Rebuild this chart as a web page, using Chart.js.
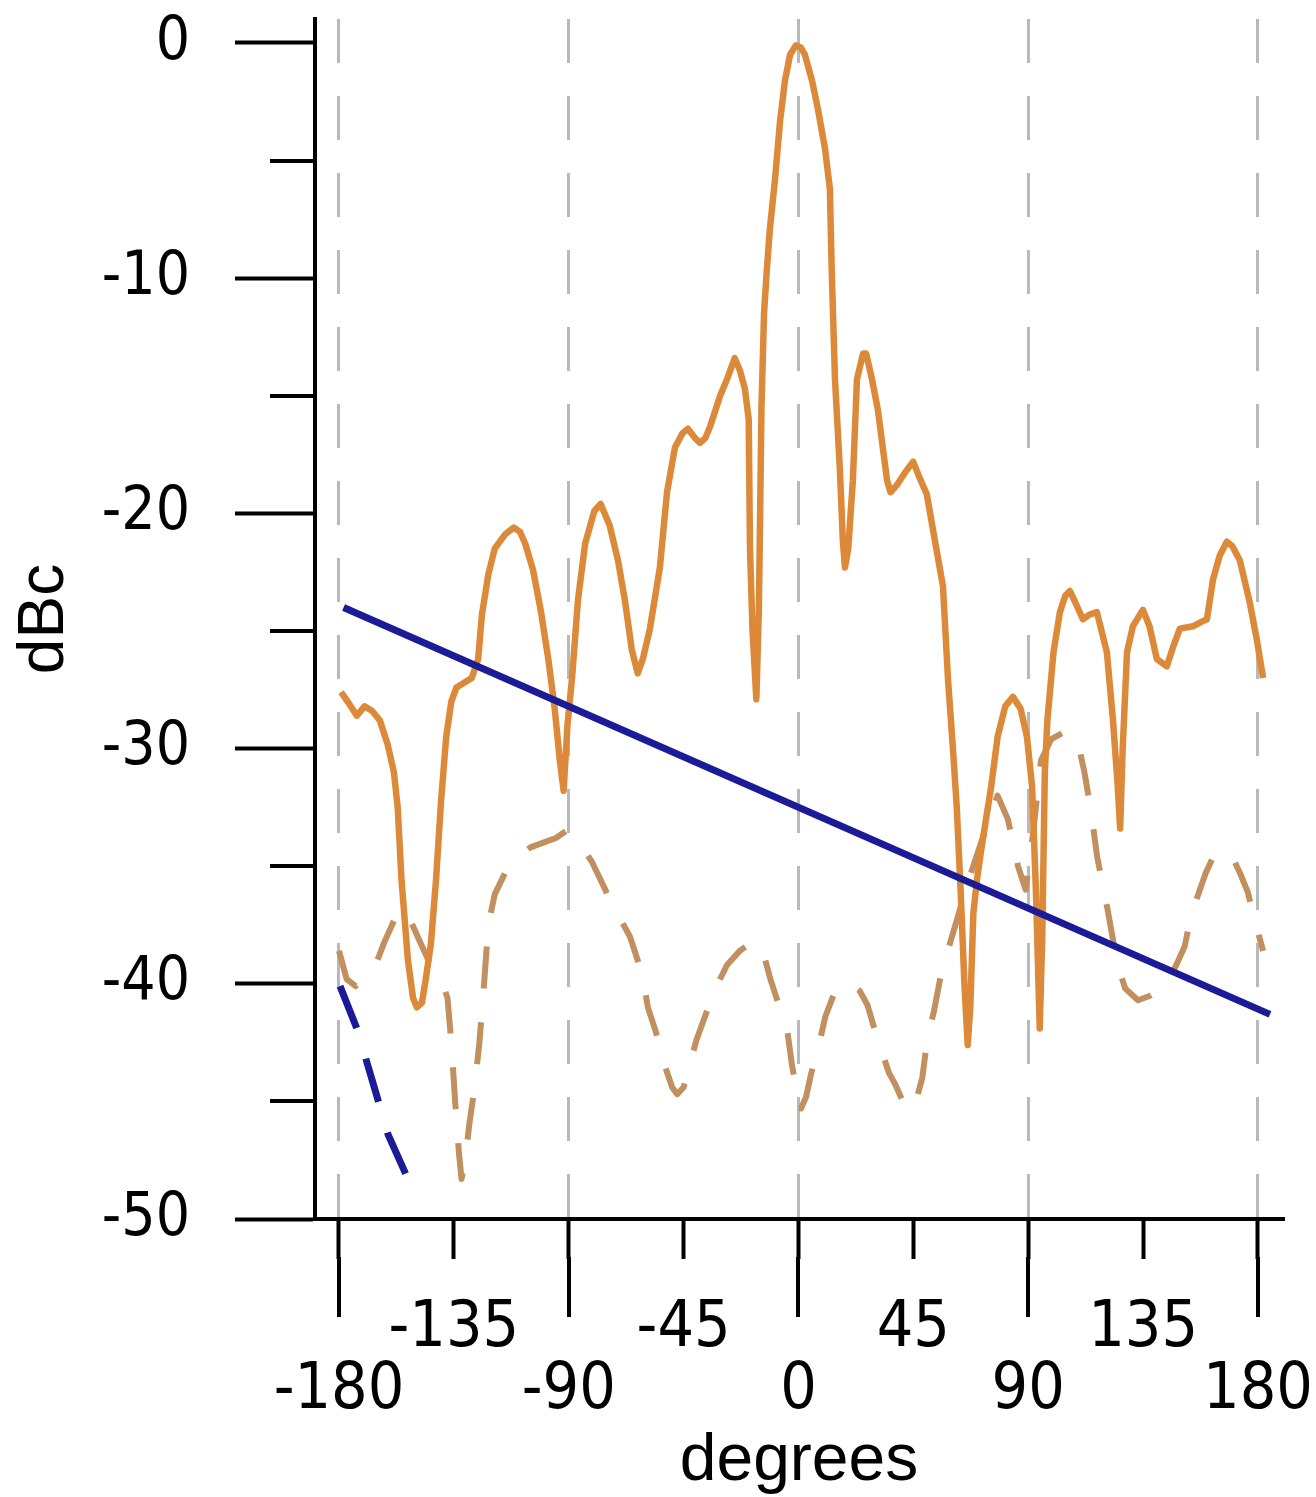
<!DOCTYPE html>
<html>
<head>
<meta charset="utf-8">
<title>dBc vs degrees</title>
<script src="https://cdn.jsdelivr.net/npm/chart.js@4.4.1/dist/chart.umd.min.js"></script>
<style>
  html, body { margin: 0; padding: 0; background: #fff; }
  #wrap { width: 1316px; height: 1497px; }
</style>
</head>
<body>
<div id="wrap"><canvas id="pattern" width="1316" height="1497"></canvas></div>
<script>
// angle (degrees) / level (dBc)
const solidAngles = [-179.2, -176, -173, -170, -167, -164, -161, -158.5, -157, -155.5, -153, -151, -149.5, -147.5, -146, -144, -142, -140, -138, -136,
  -134, -131, -128, -125.5, -124, -121.5, -119, -115, -111.5, -109, -107, -104, -101, -98, -95.5, -93.5, -92, -90.5, -88.7, -86.4,
  -83.6, -80, -77.5, -74, -70.7, -68, -65.3, -63, -61, -58.2, -54.3, -51.5, -48.4, -45.5, -43.3, -40.5, -38.6, -36.5, -34.6, -30.7,
  -28, -25, -23, -21, -19.5, -19, -18, -16.5, -15.5, -14.5, -13.5, -12.5, -11.2, -9.2, -7.2, -5.3, -3.3, -1, 1, 2.5,
  5.3, 7.6, 10.4, 12.3, 13, 14.3, 16.2, 17.4, 18.2, 19.5, 21.3, 22.9, 25.3, 26.5, 28.8, 31.1, 34.7, 36, 38.5, 41.5,
  44.9, 47.5, 50.3, 52.7, 56.6, 58.6, 60.5, 62, 63.5, 65, 66.3, 67.3, 68.5, 70, 72, 75.5, 78, 81, 84, 87,
  89.5, 91.5, 93, 94.5, 95.5, 96.5, 97.5, 99.9, 102.4, 104.5, 106.3, 108.5, 111.4, 114, 116.9, 118.5, 120.8, 123.2, 125, 126,
  127, 128.7, 131, 134.9, 137.5, 140.4, 144.3, 147, 149.4, 154.5, 158, 160, 162.4, 165, 167.8, 170, 172.9, 176.8, 179.6, 182];
const solidLevels = [-27.6, -28.1, -28.6, -28.2, -28.4, -28.8, -29.8, -31.0, -32.5, -35.6, -39.0, -40.6, -41.0, -40.8, -39.8, -38.3, -35.6, -32.2, -29.5, -28.0,
  -27.4, -27.2, -27.0, -26.2, -24.3, -22.6, -21.5, -20.9, -20.6, -20.8, -21.3, -22.4, -24.1, -26.2, -28.3, -30.5, -31.8, -29.0, -27.0, -23.7,
  -21.3, -19.9, -19.6, -20.5, -22.0, -23.7, -25.8, -26.8, -26.2, -24.9, -22.3, -19.1, -17.2, -16.6, -16.4, -16.8, -17.0, -16.8, -16.3, -15.0,
  -14.3, -13.4, -13.9, -14.7, -16.0, -21.5, -25.0, -27.9, -24.0, -15.5, -11.5, -9.8, -7.9, -5.8, -3.3, -1.6, -0.5, -0.1, -0.2, -0.5,
  -1.6, -2.8, -4.5, -6.2, -9.6, -14.3, -18.1, -21.2, -22.3, -21.5, -18.6, -14.3, -13.2, -13.2, -14.3, -15.6, -18.6, -19.1, -18.8, -18.3,
  -17.8, -18.5, -19.2, -20.7, -23.1, -27.1, -30.0, -32.5, -36.0, -40.0, -42.6, -41.0, -37.0, -35.5, -34.0, -31.6, -29.5, -28.2, -27.8, -28.3,
  -29.5, -31.6, -36.0, -41.9, -38.0, -31.0, -28.8, -25.9, -24.2, -23.5, -23.3, -23.8, -24.5, -24.3, -24.2, -24.9, -25.9, -28.8, -31.5, -33.4,
  -30.0, -25.9, -24.8, -24.1, -24.8, -26.2, -26.5, -25.6, -24.9, -24.8, -24.6, -24.5, -22.8, -21.8, -21.2, -21.4, -22.0, -23.8, -25.4, -27.0];

const dashAngles = [-180, -177, -173.5, -170, -166, -162.5, -158, -154, -150, -145, -140, -137.5, -136, -134.5, -133, -132, -130.5, -129, -127, -125,
  -123.5, -121.5, -119, -115, -110, -105, -100, -95, -91, -86, -81, -77, -73.5, -70, -66, -63, -61, -59, -56, -54,
  -52, -49.5, -47.5, -45, -43, -40, -36, -33, -28, -23, -18, -14.5, -11, -8, -4.5, -2.5, -0.5, 1, 3, 5,
  8, 10.5, 14, 19, 24, 27, 30, 33, 35.5, 38, 42.5, 46, 48.5, 50.5, 53, 56, 59, 62, 66, 70,
  74, 78, 82, 86, 89, 92, 95, 99, 104, 109, 112, 114.5, 117, 121, 125, 128, 133, 138, 143.5, 148,
  151.3, 154, 159.5, 162.5, 166, 169.5, 173, 176, 179, 182];
const dashLevels = [-38.6, -39.8, -40.1, -39.6, -39.3, -38.3, -37.2, -36.8, -37.8, -39.0, -39.8, -40.6, -42.5, -45.0, -47.2, -48.3, -47.5, -46.0, -44.5, -42.5,
  -40.5, -37.5, -36.2, -35.3, -34.6, -34.2, -34.0, -33.8, -33.5, -34.0, -34.8, -35.7, -36.5, -37.2, -38.0, -39.0, -39.7, -41.0, -42.0, -42.8,
  -43.6, -44.4, -44.7, -44.4, -43.6, -42.4, -41.2, -40.3, -39.2, -38.6, -38.2, -38.4, -39.8, -40.8, -41.9, -43.5, -44.6, -45.3, -44.8, -43.8,
  -42.6, -41.4, -40.4, -39.9, -40.3, -40.9, -42.0, -43.0, -43.8, -44.3, -45.4, -45.0, -44.0, -42.3, -41.2, -39.5, -38.4, -37.3, -35.8, -34.5,
  -33.2, -32.0, -33.0, -35.0, -36.0, -33.5, -30.5, -29.6, -29.3, -29.5, -31.0, -32.6, -34.6, -36.8, -39.2, -40.2, -40.7, -40.5, -40.1, -39.2,
  -38.4, -37.0, -35.3, -34.6, -34.3, -34.5, -35.3, -36.1, -37.4, -38.6];

const blueAngles = [-178.2, 184.7];
const blueLevels = [-24.0, -41.3];

const blueDashAngles = [-179.6, -173, -167, -160.8, -153.4];
const blueDashLevels = [-40.1, -41.9, -44.1, -46.4, -48.2];

const xTicks = [-180, -135, -90, -45, 0, 45, 90, 135, 180];
const yTicks = [-50, -45, -40, -35, -30, -25, -20, -15, -10, -5, 0];

const toPoints = (xs, ys) => xs.map((x, i) => ({x: x, y: ys[i]}));

const numFont = "'Liberation Sans Narrow', 'DejaVu Sans Condensed', 'Liberation Sans', Arial, sans-serif";
const textFont = "'Liberation Sans', Arial, sans-serif";

// short ticks on the y axis and long ticks below the x axis
const extraTicks = {
    id: 'extraTicks',
    afterDraw(chart) {
        const {ctx, chartArea, scales: {x, y}} = chart;
        ctx.save();
        ctx.strokeStyle = '#000';
        ctx.lineWidth = 4;
        ctx.beginPath();
        yTicks.filter(v => v % 10 !== 0).forEach(v => {
            const py = Math.round(y.getPixelForValue(v));
            ctx.moveTo(chartArea.left - 45, py);
            ctx.lineTo(chartArea.left, py);
        });
        xTicks.filter(v => v % 90 === 0).forEach(v => {
            const px = Math.round(x.getPixelForValue(v));
            ctx.moveTo(px, chartArea.bottom + 38);
            ctx.lineTo(px, chartArea.bottom + 98);
        });
        ctx.stroke();
        ctx.restore();
    }
};

const ctx = document.getElementById('pattern').getContext('2d');

new Chart(ctx, {
    type: 'line',
    data: {
        datasets: [
            {
                data: toPoints(blueAngles, blueLevels),
                borderColor: '#1b1b98',
                borderWidth: 7
            },
            {
                data: toPoints(blueDashAngles, blueDashLevels),
                borderColor: '#1b1b98',
                borderWidth: 7,
                borderDash: [45, 32]
            },
            {
                data: toPoints(solidAngles, solidLevels),
                borderColor: '#dc8a3a',
                borderWidth: 6.5
            },
            {
                data: toPoints(dashAngles, dashLevels),
                borderColor: '#c28f5e',
                borderWidth: 6,
                borderDash: [42, 34]
            }
        ]
    },
    options: {
        responsive: false,
        animation: false,
        devicePixelRatio: 1,
        layout: { padding: { top: 19, right: 33, bottom: 0, left: 0 } },
        elements: {
            point: { radius: 0 },
            line: { tension: 0, borderJoinStyle: 'round', fill: false }
        },
        plugins: {
            legend: { display: false },
            tooltip: { enabled: false }
        },
        scales: {
            x: {
                type: 'linear',
                min: -189.4,
                max: 189.8,
                afterBuildTicks: (scale) => { scale.ticks = xTicks.map(v => ({value: v})); },
                afterFit: (scale) => {
                    scale.height = 278;
                    scale.paddingLeft = 0;
                    scale.paddingRight = 0;
                },
                grid: {
                    drawOnChartArea: true,
                    color: (c) => (c.tick && c.tick.value % 90 === 0) ? '#b9b9b9' : 'rgba(0,0,0,0)',
                    lineWidth: 3,
                    tickLength: 40,
                    tickColor: '#000',
                    tickWidth: 4,
                    tickBorderDash: []
                },
                border: { display: true, color: '#000', width: 4, dash: [44, 33] },
                ticks: {
                    autoSkip: false,
                    maxRotation: 0,
                    minRotation: 0,
                    padding: 40,
                    color: '#000',
                    font: { family: numFont, size: 64, lineHeight: 0.96 },
                    callback: (v) => v % 90 === 0 ? ['', String(v)] : [String(v), '']
                },
                title: {
                    display: true,
                    text: 'degrees',
                    color: '#000',
                    font: { family: textFont, size: 66, lineHeight: 1 },
                    padding: { top: 0, bottom: 2 }
                }
            },
            y: {
                min: -50,
                max: 1.02,
                afterBuildTicks: (scale) => { scale.ticks = yTicks.map(v => ({value: v})); },
                afterFit: (scale) => {
                    scale.width = 315;
                    scale.paddingTop = 0;
                    scale.paddingBottom = 0;
                },
                grid: {
                    drawOnChartArea: false,
                    tickLength: 80,
                    tickWidth: 4,
                    tickColor: (c) => (c.tick && c.tick.value % 10 === 0) ? '#000' : 'rgba(0,0,0,0)'
                },
                border: { display: true, color: '#000', width: 4 },
                ticks: {
                    autoSkip: false,
                    padding: 45,
                    color: '#000',
                    font: { family: numFont, size: 60 },
                    callback: (v) => v % 10 === 0 ? String(v) : ''
                },
                title: {
                    display: true,
                    text: 'dBc',
                    color: '#000',
                    font: { family: textFont, size: 64, lineHeight: 1 },
                    padding: { top: 13, bottom: 0 }
                }
            }
        }
    },
    plugins: [extraTicks]
});
</script>
</body>
</html>
